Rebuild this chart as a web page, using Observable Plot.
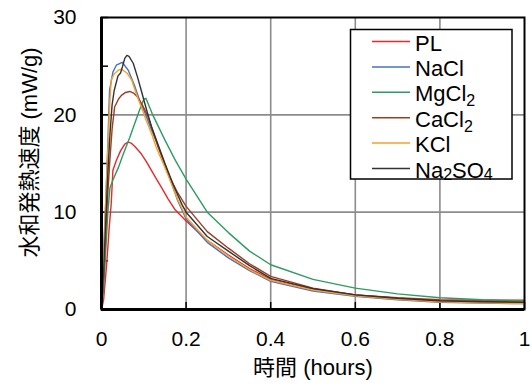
<!DOCTYPE html>
<html><head><meta charset="utf-8">
<script src="https://cdn.jsdelivr.net/npm/d3@7"></script>
<script src="https://cdn.jsdelivr.net/npm/@observablehq/plot@0.6"></script>
<style>body{margin:0;background:#fff}</style>
</head><body><div id="chart"></div>
<script>
const seriesNames = ["PL", "NaCl", "MgCl2", "CaCl2", "KCl", "Na2SO4"];
const seriesColors = ["#e8282b", "#4472c4", "#2e9b62", "#9e3d22", "#f7a128", "#333333"];

const tPL = [0,0.005,0.01,0.014,0.018,0.023,0.027,0.035,0.045,0.055,0.063,0.07,0.08,0.094,0.106,0.118,0.13,0.141,0.157,0.173,0.2,0.25,0.3,0.35,0.4,0.5,0.6,0.7,0.8,0.9,1.0];
const qPL = [0,1,3.5,5.7,8.3,10.9,14.3,15.3,16.3,17.0,17.2,17.1,16.7,16.0,15.2,14.3,13.4,12.6,11.4,10.3,9.1,7.1,5.6,4.2,3.1,2.1,1.5,1.2,1.0,0.95,0.95];

const tNaCl = [0,0.004,0.008,0.011,0.015,0.019,0.027,0.035,0.049,0.063,0.079,0.09,0.102,0.115,0.13,0.145,0.16,0.18,0.2,0.25,0.3,0.35,0.4,0.5,0.6,0.7,0.8,0.9,1.0];
const qNaCl = [0,5,9,12.2,17,22.5,24.4,25.1,25.4,24.6,22.9,21.5,20.3,18.8,17.2,15.5,13.7,11.2,9.3,6.9,5.3,4.0,2.9,1.9,1.35,1.0,0.75,0.65,0.6];

const tMgCl2 = [0,0.005,0.01,0.015,0.02,0.027,0.04,0.05,0.067,0.08,0.09,0.1,0.105,0.12,0.15,0.175,0.2,0.25,0.3,0.35,0.4,0.5,0.6,0.7,0.8,0.9,1.0];
const qMgCl2 = [0,2,6,10,12.5,13.3,14.6,15.8,17.7,19.3,20.5,21.6,21.7,20.1,17.4,15.3,13.4,10.0,7.9,6.0,4.6,3.1,2.2,1.6,1.2,1.0,0.9];

const tCaCl2 = [0,0.005,0.01,0.015,0.02,0.025,0.031,0.04,0.047,0.057,0.067,0.077,0.086,0.098,0.11,0.122,0.134,0.148,0.161,0.18,0.2,0.25,0.3,0.35,0.4,0.5,0.6,0.7,0.8,0.9,1.0];
const qCaCl2 = [0,3.5,8,12,15.5,18.5,20.8,21.6,22.0,22.3,22.4,22.2,21.8,20.9,19.8,18.3,16.7,15.1,13.6,12.0,10.6,8.0,6.3,4.7,3.4,2.2,1.5,1.15,0.9,0.8,0.75];

const tKCl = [0,0.005,0.01,0.015,0.02,0.023,0.03,0.04,0.047,0.06,0.071,0.082,0.094,0.106,0.118,0.13,0.146,0.16,0.18,0.2,0.25,0.3,0.35,0.4,0.5,0.6,0.7,0.8,0.9,1.0];
const qKCl = [0,5,11,16.5,21.5,23.6,24.2,24.6,24.7,24.3,23.6,22.2,20.8,19.4,18.1,16.6,15.0,13.5,11.3,9.5,7.1,5.5,4.1,3.0,2.0,1.4,1.05,0.8,0.7,0.6];

const tNa2SO4 = [0,0.005,0.01,0.015,0.02,0.025,0.03,0.039,0.045,0.05,0.055,0.06,0.065,0.075,0.085,0.094,0.106,0.118,0.134,0.15,0.17,0.19,0.2,0.25,0.3,0.35,0.4,0.5,0.6,0.7,0.8,0.9,1.0];
const qNa2SO4 = [0,4,9,14,18,21,22.5,24.0,24.3,25.0,25.8,26.1,26.0,25.3,23.9,22.5,20.6,18.8,16.9,15.0,12.8,10.8,10.0,7.5,6.0,4.5,3.2,2.15,1.5,1.15,0.9,0.8,0.75];

const xTickValues = [0, 0.2, 0.4, 0.6, 0.8, 1];
const xTickLabels = ["0", "0.2", "0.4", "0.6", "0.8", "1"];
const yTickValues = [0, 10, 20, 30];
const yTickLabels = ["0", "10", "20", "30"];
const yMinorTicks = [0, 5, 10, 15, 20, 25, 30];
const xGridValues = [0.2, 0.4, 0.6, 0.8];
const yGridValues = [10, 20];
const xTitle = "時間 (hours)";
const yTitle = "水和発熱速度 (mW/g)";
const legendLabels = [["PL"], ["NaCl"], ["MgCl", "2"], ["CaCl", "2"], ["KCl"], ["Na", "2", "SO", "4"]];

const seriesT = [tPL, tNaCl, tMgCl2, tCaCl2, tKCl, tNa2SO4];
const seriesQ = [qPL, qNaCl, qMgCl2, qCaCl2, qKCl, qNa2SO4];
const rows = [];
seriesNames.forEach((s, k) => seriesT[k].forEach((t, i) => rows.push({s, t, q: seriesQ[k][i]})));

const font = "'Liberation Sans', Arial, 'Noto Sans CJK JP', sans-serif";
const svg = Plot.plot({
  width: 532, height: 385,
  marginLeft: 101, marginRight: 8, marginTop: 17, marginBottom: 76,
  style: {fontFamily: font, background: "white", color: "black"},
  x: {domain: [0, 1], label: null},
  y: {domain: [0, 30], label: null},
  color: {domain: seriesNames, range: seriesColors},
  marks: [
    Plot.ruleX(xGridValues, {stroke: "#8c8c8c", strokeWidth: 1.6}),
    Plot.ruleY(yGridValues, {stroke: "#8c8c8c", strokeWidth: 1.6}),
    Plot.axisX(xTickValues, {tickSize: 7, dy: -7, tickFormat: () => "", strokeWidth: 1.5}),
    Plot.axisY(yMinorTicks, {tickSize: 7, dx: 7, tickFormat: () => "", strokeWidth: 1.5}),
    Plot.line(rows, {x: "t", y: "q", z: "s", stroke: "s", strokeWidth: 1.4}),
    Plot.frame({stroke: "black", strokeWidth: 2}),
    Plot.ruleX([0], {stroke: "black", strokeWidth: 3}),
    Plot.ruleY([0], {stroke: "black", strokeWidth: 3}),
    Plot.axisX(xTickValues, {tickSize: 0, tickPadding: 22, fontSize: 21,
      tickFormat: d => xTickLabels[xTickValues.indexOf(d)]}),
    Plot.axisY(yTickValues, {tickSize: 0, tickPadding: 25, fontSize: 21,
      tickFormat: d => yTickLabels[yTickValues.indexOf(d)]}),
    Plot.text([xTitle], {frameAnchor: "bottom", textAnchor: "middle", lineAnchor: "middle", dy: 58, fontSize: 22}),
    Plot.text([yTitle], {frameAnchor: "left", textAnchor: "middle", lineAnchor: "middle", rotate: -90, dx: -72, dy: -11, fontSize: 22})
  ]
});

// legend
const lg = d3.select(svg).append("g").attr("font-family", font).attr("font-size", 22)
  .attr("text-anchor", "start");
lg.append("rect").attr("x", 350.5).attr("y", 29.5).attr("width", 161.5).attr("height", 149.5)
  .attr("fill", "white").attr("stroke", "black").attr("stroke-width", 1.5);
legendLabels.forEach((parts, i) => {
  const y = 41.5 + i * 25.4;
  lg.append("line").attr("x1", 372).attr("x2", 410).attr("y1", y).attr("y2", y)
    .attr("stroke", seriesColors[i]).attr("stroke-width", 1.5);
  const tx = lg.append("text").attr("x", 415).attr("y", y + 9).attr("text-anchor", "start");
  parts.forEach((p, j) => {
    const sub = j % 2 === 1;
    const ts = tx.append("tspan").text(p);
    if (sub) ts.attr("font-size", 16).attr("dy", i === 5 ? 2 : 5);
    else if (j > 0) ts.attr("dy", i === 5 ? -2 : -5);
  });
});

document.getElementById("chart").append(svg);
</script>
</body></html>
